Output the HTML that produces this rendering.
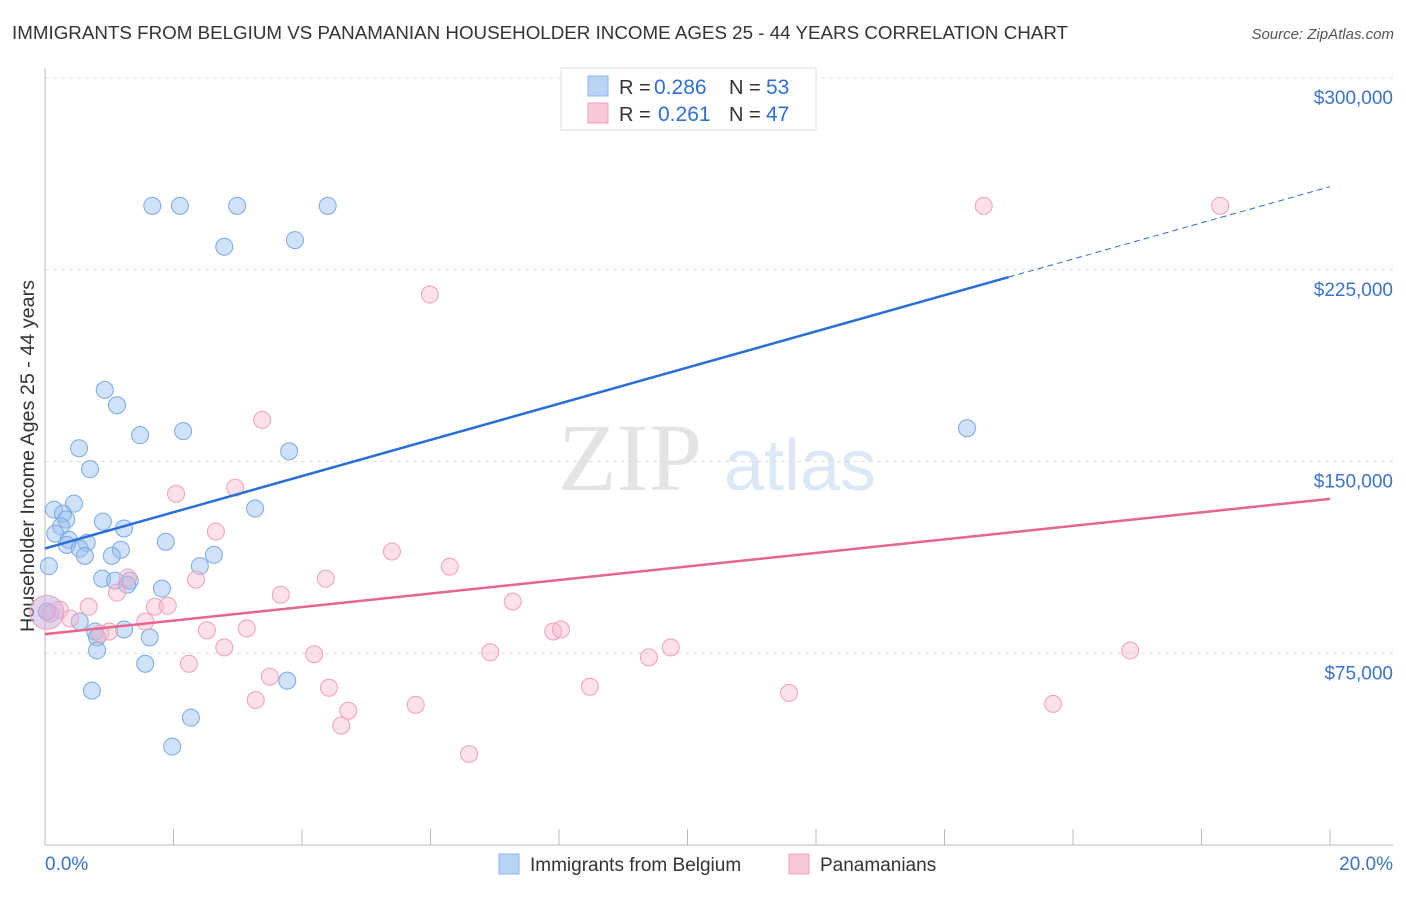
<!DOCTYPE html>
<html><head><meta charset="utf-8"><style>
body{margin:0;background:#fff;font-family:"Liberation Sans",sans-serif;}
</style></head><body>
<svg id="chart" width="1406" height="892" xmlns="http://www.w3.org/2000/svg" style="font-family:'Liberation Sans',sans-serif">
<text x="12" y="39" font-size="18" fill="#333" textLength="1056" lengthAdjust="spacingAndGlyphs">IMMIGRANTS FROM BELGIUM VS PANAMANIAN HOUSEHOLDER INCOME AGES 25 - 44 YEARS CORRELATION CHART</text>
<text x="1394" y="39" font-size="15" fill="#555" font-style="italic" text-anchor="end">Source: ZipAtlas.com</text>
<text x="630" y="490" font-size="96" fill="#e4e4e4" font-family="Liberation Serif,serif" text-anchor="middle">ZIP</text>
<text x="800" y="490" font-size="72" fill="#dce8f6" text-anchor="middle">atlas</text>
<text transform="translate(34,456) rotate(-90)" font-size="19" fill="#333" text-anchor="middle" textLength="352" lengthAdjust="spacingAndGlyphs">Householder Income Ages 25 - 44 years</text>
<g id="grid"></g><g id="pts"></g><g id="lines"></g>
<g>
<rect x="561" y="68" width="255" height="62" fill="#fff" stroke="#ddd"/>
<rect x="588" y="76" width="20" height="20" fill="#b9d3f5" stroke="#8cb4ea"/>
<rect x="588" y="103" width="20" height="20" fill="#f9c8d6" stroke="#f0a0b8"/>
<text x="619" y="94" font-size="20" fill="#333">R =</text>
<text x="654" y="94" font-size="21" fill="#2f6fd6">0.286</text>
<text x="729" y="94" font-size="20" fill="#333">N =</text>
<text x="766" y="94" font-size="21" fill="#2f6fd6">53</text>
<text x="619" y="121" font-size="20" fill="#333">R =</text>
<text x="658" y="121" font-size="21" fill="#2f6fd6">0.261</text>
<text x="729" y="121" font-size="20" fill="#333">N =</text>
<text x="766" y="121" font-size="21" fill="#2f6fd6">47</text>
</g>
<g>
<rect x="499" y="854" width="20" height="20" fill="#b9d3f5" stroke="#8cb4ea"/>
<text x="530" y="871" font-size="19" fill="#333">Immigrants from Belgium</text>
<rect x="789" y="854" width="20" height="20" fill="#f9c8d6" stroke="#f0a0b8"/>
<text x="820" y="871" font-size="19" fill="#333">Panamanians</text>
</g>
<text x="45" y="870" font-size="19" fill="#3b73c8">0.0%</text>
<text x="1393" y="870" font-size="19" fill="#3b73c8" text-anchor="end">20.0%</text>
</svg>
<script>
const yTicks=[75000,150000,225000,300000];
const yTickLabels=["$75,000","$150,000","$225,000","$300,000"];
const blueX=[1.67,2.1,2.99,4.4,2.79,3.89,0.93,1.12,1.48,2.15,0.53,0.7,3.8,14.35,0.45,0.14,0.28,0.33,0.9,1.23,0.25,0.16,0.37,0.34,0.65,0.54,0.62,1.18,1.04,1.88,0.06,2.63,2.41,0.89,1.09,1.32,1.28,1.82,0.03,0.54,0.78,0.81,1.23,1.63,0.81,1.56,0.73,3.77,2.27,1.98,3.27];
const blueY=[250000,250000,250000,250000,234000,236600,178000,172000,160300,161900,155200,147000,154000,163000,133500,131200,129600,127300,126500,123800,124600,121800,119400,117400,118200,115900,113100,115500,113100,118600,109100,113500,109100,104200,103400,103400,101800,100300,91300,87400,83500,81200,84300,81200,76100,70900,60400,64300,49800,38500,131600];
const pinkX=[5.99,14.61,18.29,3.38,2.04,2.96,2.66,5.4,6.3,4.37,2.35,3.67,1.29,1.12,7.28,0.68,1.71,1.91,0.23,0.08,1.56,3.14,2.52,1.0,0.86,7.91,8.03,2.79,6.93,4.19,9.4,9.74,16.89,2.24,3.5,4.42,8.48,11.58,3.28,5.77,4.72,4.61,15.69,6.6,0.39,0.03];
const pinkY=[215300,250000,250000,166300,137400,139800,122600,114800,108900,104200,103800,97900,104600,98700,95200,93200,93200,93600,92000,90500,87400,84700,84000,83500,82700,83500,84300,77300,75400,74600,73400,77300,76100,70900,65800,61500,61900,59500,56700,54800,52500,46700,55200,35600,88600,91000];
const blueFit=[116000,257500];
const pinkFit=[82500,135400];
const NS="http://www.w3.org/2000/svg";
const X=v=>45+v/20*1285, Y=v=>845-v/300000*767;
function mk(t,a,p){const e=document.createElementNS(NS,t);for(const k in a)e.setAttribute(k,a[k]);p.appendChild(e);return e;}
const grid=document.getElementById('grid');
yTicks.forEach((t,i)=>{
 const l=mk('line',{x1:45,x2:1393,y1:Y(t),y2:Y(t),stroke:'#ddd','stroke-dasharray':'4,4'},grid);
 
 
 const tx=mk('text',{x:1393,y:Y(t)+26,'font-size':19,fill:'#3b73c8','text-anchor':'end'},grid);
 tx.textContent=yTickLabels[i];
 
 
});
mk('line',{x1:45,x2:45,y1:68,y2:845,stroke:'#bbb'},grid);
mk('line',{x1:45,x2:1393,y1:845,y2:845,stroke:'#bbb'},grid);
for(let i=0;i<=10;i++){const x=X(i*2);mk('line',{x1:x,x2:x,y1:829,y2:845,stroke:'#bbb'},grid);}
const pts=document.getElementById('pts');
blueX.forEach((v,i)=>{const c=mk('circle',{cx:X(v),cy:Y(blueY[i]),r:8.5,fill:'rgba(150,190,240,0.45)',stroke:'#7aa8e6','stroke-width':1},pts);
 
 });
pinkX.forEach((v,i)=>{const big=i==pinkX.length-1;const c=mk('circle',{cx:X(v),cy:Y(pinkY[i]),r:big?17:8.5,fill:big?'rgba(200,170,220,0.5)':'rgba(248,180,200,0.4)',stroke:'#f0a0b8','stroke-width':1},pts);
 
 });
const lines=document.getElementById('lines');
const bAt=x=>blueFit[0]+(blueFit[1]-blueFit[0])*x/20;
let b1=mk('line',{x1:X(0),y1:Y(bAt(0)),x2:X(15),y2:Y(bAt(15)),stroke:'#2a6fd6','stroke-width':2.5},lines);


let b2=mk('line',{x1:X(15),y1:Y(bAt(15)),x2:X(20),y2:Y(bAt(20)),stroke:'#2a6fd6','stroke-width':1,'stroke-dasharray':'6,4'},lines);


let p1=mk('line',{x1:X(0),y1:Y(pinkFit[0]),x2:X(20),y2:Y(pinkFit[1]),stroke:'#e8658e','stroke-width':2.5},lines);


</script>
</body></html>
